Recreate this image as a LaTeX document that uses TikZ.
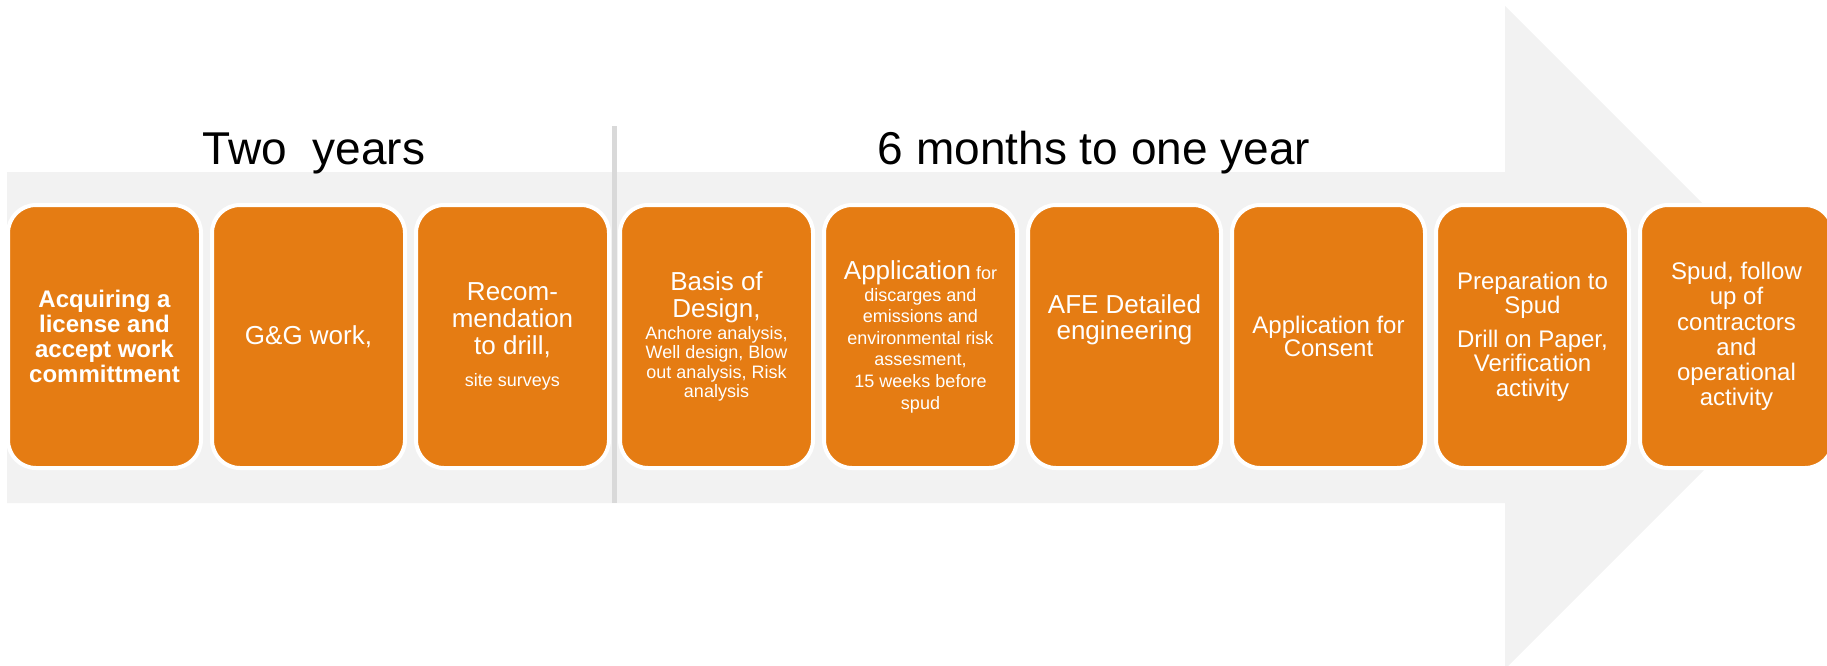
\documentclass[tikz,border=0pt]{standalone}
\usepackage{fontspec}
\setmainfont{Liberation Sans}
\definecolor{boxorange}{HTML}{E57C13}
\definecolor{arrowgray}{HTML}{F2F2F2}
\definecolor{divgray}{HTML}{D9D9D9}
\newcommand{\bxlarge}{\fontsize{13}{13.5}\selectfont}
\newcommand{\bxsmall}{\fontsize{9}{10}\selectfont}

\begin{document}
\begin{tikzpicture}[x=0.5pt,y=-0.5pt,
   phase/.style={draw=white,line width=2pt,fill=boxorange,rounded corners=14pt,
     minimum width=96.5pt,minimum height=131.5pt,inner sep=0pt,align=center,text=white},
   period/.style={font=\fontsize{23}{27}\selectfont,anchor=base,inner sep=0pt}]
   \useasboundingbox (0,0) rectangle (1827,665);
   \clip (0,0) rectangle (1827,665);
   %arrow
   \fill[arrowgray] (7,172) -- (1505,172) -- (1505,6) -- (1836.5,337.5) -- (1505,669) -- (1505,503) -- (7,503) -- cycle;
   %divider
   \draw[divgray,line width=2.25pt] (614.5,126) -- (614.5,503);
   %periods
   \node[period] (twoyr) at (314,164) {Two\ \ years};
   \node[period] (sixmo) at (1094,164) {6 months to one year};
   %phases
   \node[phase,font=\bfseries\fontsize{12}{12.5}\selectfont] (acq) at (104.5,336.5) {Acquiring a\\license and\\accept work\\committment};
   \node[phase,font=\bxlarge] (gg) at (308.5,336.5) {G\&G work,};
   \node[phase,font=\bxlarge] (recom) at (512.5,336.5) {Recom-\\mendation\\to drill,\\[2.5pt]{\bxsmall site surveys}};
   \node[phase,font=\fontsize{9}{9.7}\selectfont] (basis) at (716.5,336.5) {{\bxlarge Basis of}\\[3.8pt]{\bxlarge Design,}\\[1.3pt]Anchore analysis,\\Well design, Blow\\out analysis, Risk\\analysis};
   \node[phase,font=\fontsize{9}{10.8}\selectfont] (appl) at (920.5,336.5) {{\bxlarge Application} for\\[0.2pt]discarges and\\emissions and\\environmental risk\\assesment,\\15 weeks before\\spud};
   \node[phase,font=\fontsize{13}{13}\selectfont] (afe) at (1124.5,336.5) {AFE Detailed\\engineering\\[6pt]\mbox{}};
   \node[phase,font=\fontsize{12}{11.7}\selectfont] (consent) at (1328.5,336.5) {Application for\\Consent};
   \node[phase,font=\fontsize{12}{12.3}\selectfont] (prep) at (1532.5,336.5) {Preparation to\\Spud\\[4.5pt]Drill on Paper,\\Verification\\activity};
   \node[phase,font=\fontsize{12}{12.6}\selectfont] (spud) at (1736.5,336.5) {Spud, follow\\up of\\contractors\\and\\operational\\activity};
\end{tikzpicture}
\end{document}
